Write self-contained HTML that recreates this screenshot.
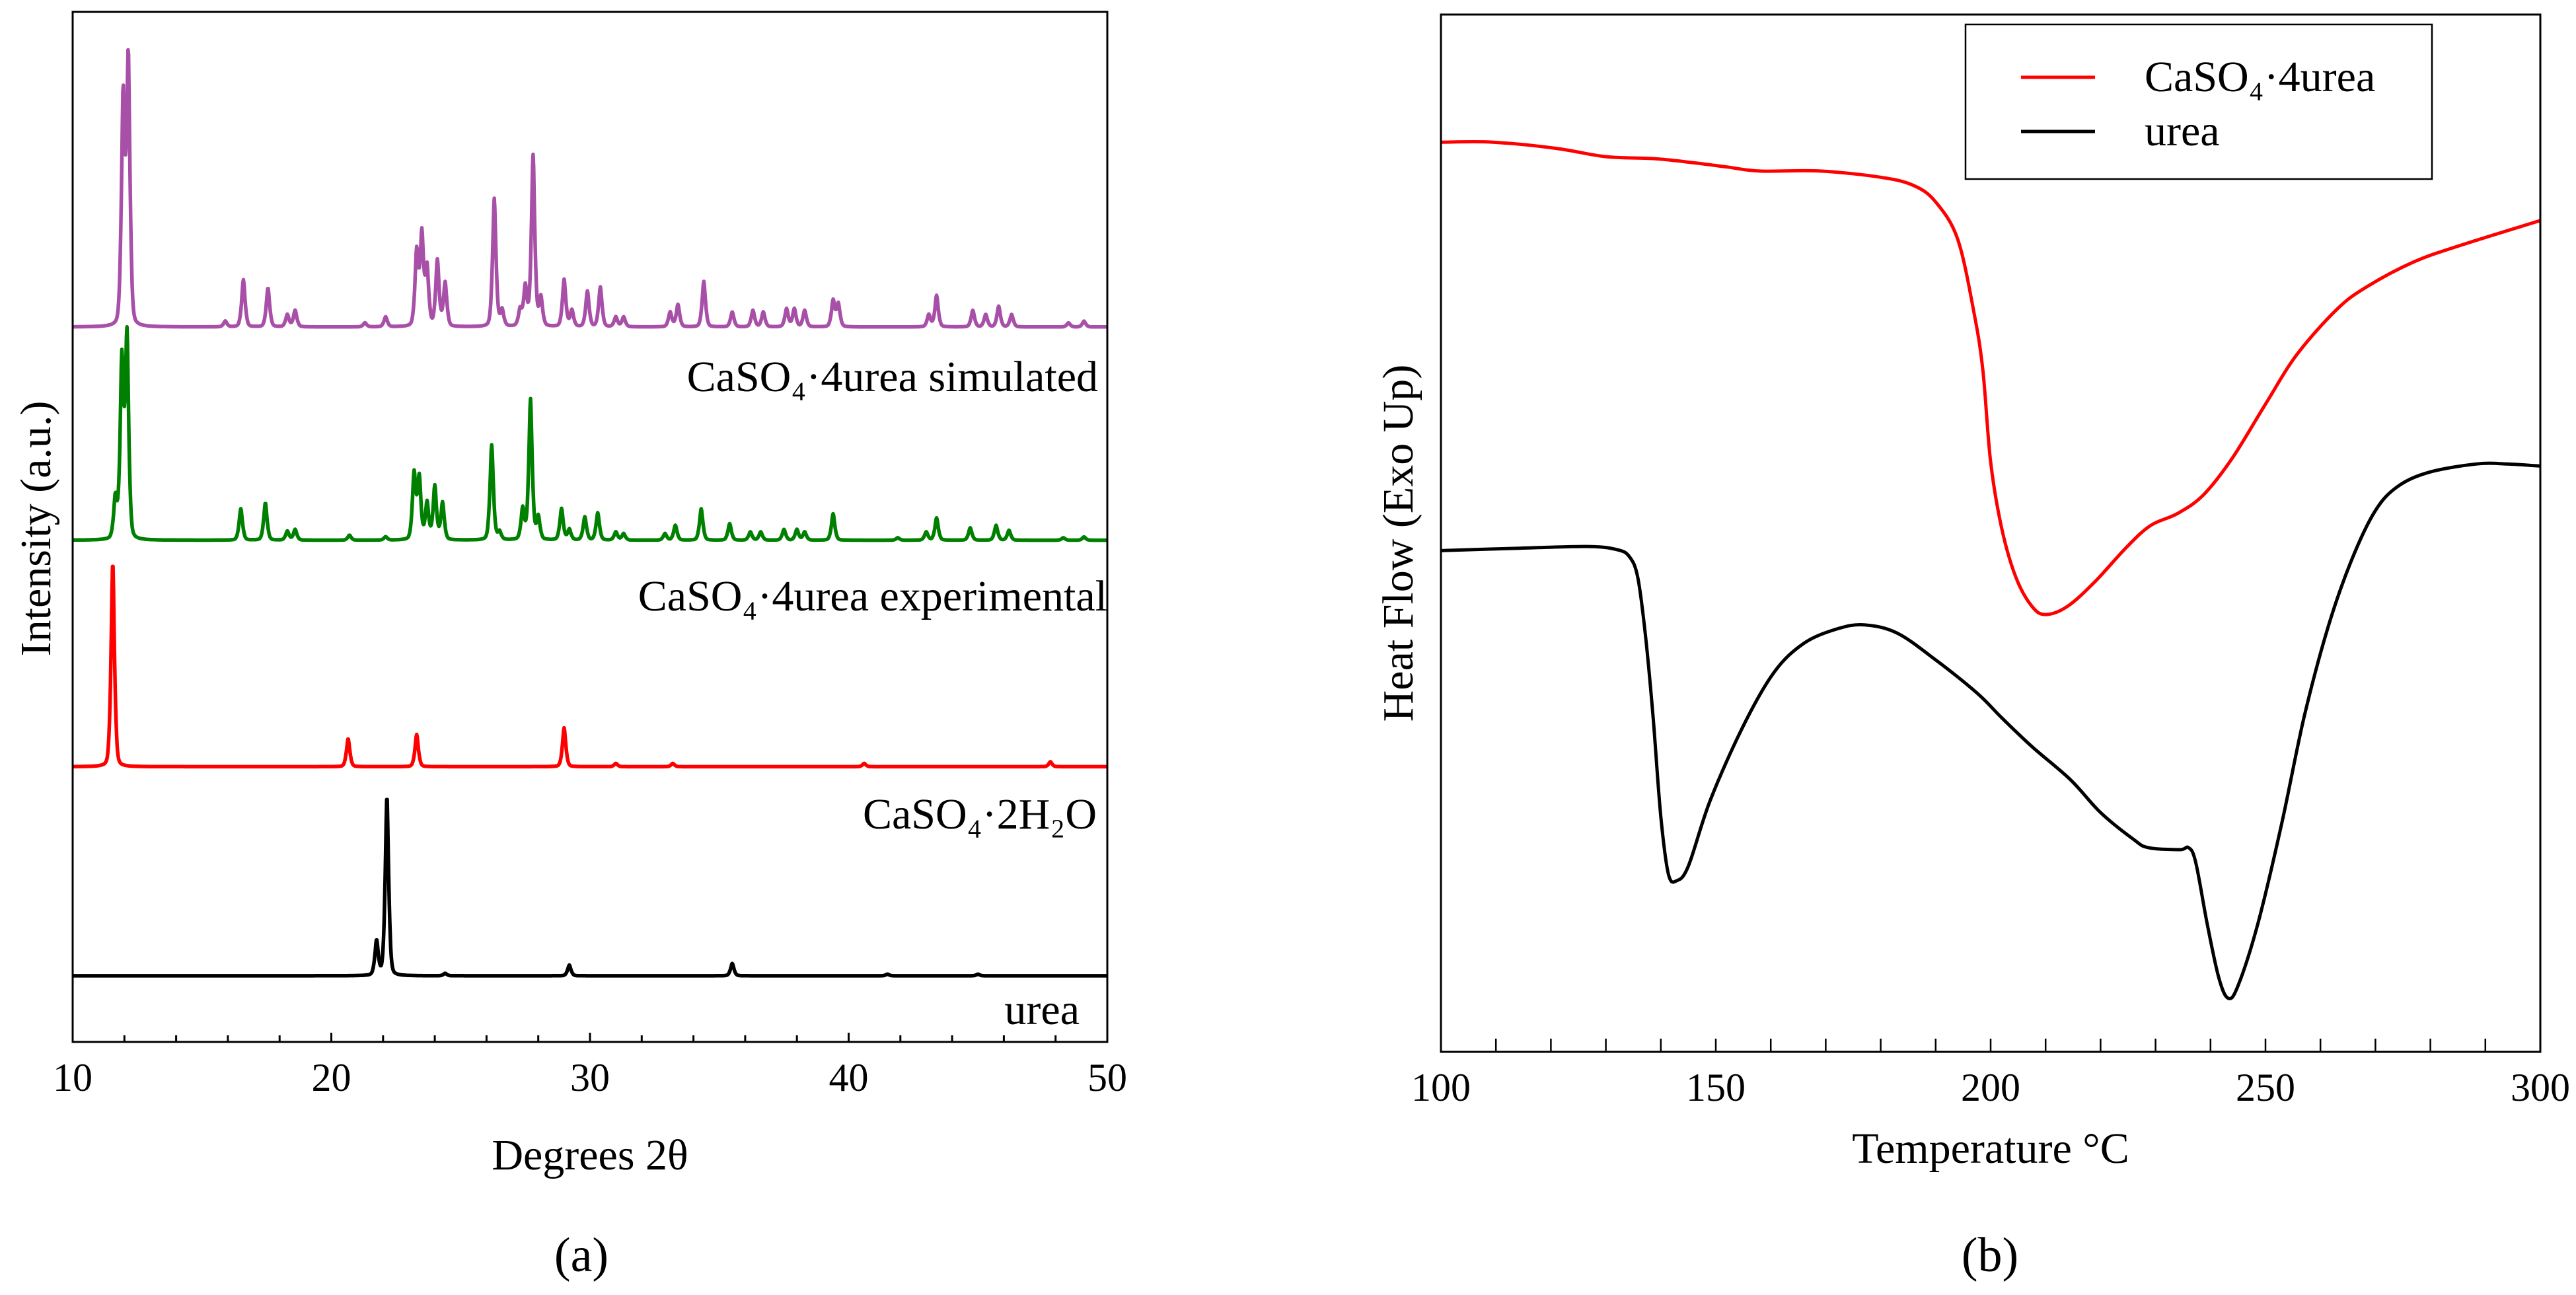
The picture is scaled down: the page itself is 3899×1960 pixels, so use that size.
<!DOCTYPE html>
<html><head><meta charset="utf-8">
<style>
html,body{margin:0;padding:0;background:#fff;}
svg{display:block;font-family:"Liberation Serif",serif;}
</style></head>
<body>
<svg id="fig" width="3899" height="1960" viewBox="0 0 3899 1960" xmlns="http://www.w3.org/2000/svg">
<g id="panelA"></g>
<g id="panelB"></g>
</svg>
<script>
// ---------- XRD data (panel a) ----------
const xrdSeriesNames = ["simulated","experimental","dihydrate","urea"];
const xrdColors = ["#a84fa8","#008000","#ff0000","#000000"];
const xrdBaselines = [865, 607, 333, 80];
const simPos = [11.95,12.15,15.9,16.6,17.55,18.3,18.6,21.3,22.1,23.3,23.5,23.7,24.1,24.4,26.3,26.6,27.3,27.5,27.8,28.1,29.0,29.3,29.9,30.4,31.0,31.3,33.1,33.4,34.4,35.5,36.3,36.7,37.6,37.9,38.3,39.4,39.6,43.1,43.4,44.8,45.3,45.8,46.3,48.5,49.1];
const simHt  = [275,322,7,57,47,15,20,5,12,90,110,70,80,53,155,20,20,48,207,35,57,20,43,48,12,12,18,27,55,18,20,18,22,22,20,32,28,15,38,20,15,25,15,5,7];
const expPos = [11.65,11.9,12.1,16.5,17.45,18.3,18.6,20.7,22.1,23.2,23.4,23.7,24.0,24.3,26.2,26.5,27.4,27.7,28.0,28.9,29.2,29.8,30.3,31.0,31.3,32.9,33.3,34.3,35.4,36.2,36.6,37.5,38.0,38.3,39.4,41.9,43.0,43.4,44.7,45.7,46.2,48.3,49.1];
const expHt  = [50,215,245,38,45,11,13,6,4,80,75,45,65,45,115,10,38,170,28,38,13,28,33,10,8,8,18,38,20,10,10,13,13,10,32,3,10,27,15,18,12,3,4];
const dihPos = [11.55,20.65,23.3,29.0,31.0,33.2,40.6,47.8];
const dihHt  = [247,34,39,47,4,4,4,6];
const ureaPos = [21.75,22.15,24.4,29.2,35.5,41.5,45.0];
const ureaHt  = [42,217,3,13,15,2,2];
const xrdXTicks = [10,20,30,40,50];
const xrdLabels = ["CaSO\u2084\u00b74urea simulated","CaSO\u2084\u00b74urea experimental","CaSO\u2084\u00b72H\u2082O","urea"];

// ---------- DSC data (panel b) ----------
const redT = [100,109.5,121,130,139,146,152,158,169,180,186,190,194,197,198.6,200,202,204.6,207.5,210,214,219,224.5,229,234,238.7,244,250,255.7,263,268.5,277,285.5,300];
const redV = [8.82,8.82,8.76,8.68,8.66,8.62,8.58,8.54,8.54,8.48,8.40,8.24,7.88,7.16,6.60,5.72,5.08,4.60,4.32,4.24,4.32,4.56,4.88,5.10,5.22,5.40,5.76,6.28,6.76,7.20,7.42,7.66,7.82,8.06];
const blkT = [100,112.3,126.5,132,134.3,135.8,137.2,138.6,140,141.4,142.9,145,149,155,160.6,166,172,177,183,190,197.5,202,207.5,214.5,220,226,228.7,234.4,236,237.3,239.4,241.5,243.2,245,248.6,252.9,257,261.4,265.6,269.9,274,279.8,288.4,294,300];
const blkV = [4.86,4.88,4.90,4.87,4.80,4.60,4.04,3.24,2.28,1.72,1.66,1.80,2.44,3.16,3.68,3.96,4.10,4.14,4.06,3.80,3.48,3.24,2.96,2.64,2.32,2.06,1.98,1.96,1.98,1.84,1.24,0.72,0.52,0.64,1.24,2.20,3.24,4.12,4.76,5.24,5.48,5.62,5.70,5.70,5.68];
const dscXTicks = [100,150,200,250,300];
const dscLegend = ["CaSO\u2084\u00b74urea","urea"];

const NS="http://www.w3.org/2000/svg";
function mk(tag, parent, attrs){const e=document.createElementNS(NS,tag);for(const k in attrs)e.setAttribute(k,attrs[k]);parent.appendChild(e);return e;}

// ---- Panel A ----
const A=document.getElementById('panelA');
const aL=110,aR=1676,aT=18,aB=1577;
const ax=d=>aL+(d-10)/40*(aR-aL);
const ay=c=>aB-c*1.251;
function pattern(pos,ht,base,x){let s=0;for(let i=0;i<pos.length;i++){const d=(x-pos[i])/0.08;s+=ht[i]*(0.5*Math.exp(-0.5*d*d)+0.5/(1+d*d*2));}return base+s;}
const xrdPos=[simPos,expPos,dihPos,ureaPos], xrdHt=[simHt,expHt,dihHt,ureaHt];
for(let k=0;k<4;k++){
  let d="";
  for(let x=10;x<=50.0001;x+=0.02){const c=pattern(xrdPos[k],xrdHt[k],xrdBaselines[k],x);d+=(d?"L":"M")+ax(x).toFixed(1)+","+ay(c).toFixed(1);}
  const p=mk('path',A,{d:d,fill:'none',stroke:xrdColors[k],'stroke-width':5.5,'stroke-linejoin':'round'});
  
  
}
const fa=mk('rect',A,{x:aL,y:aT,width:aR-aL,height:aB-aT,fill:'none',stroke:'#000','stroke-width':3});


for(let t=10;t<=50;t+=2){
  const tk=mk('line',A,{x1:ax(t),x2:ax(t),y1:aB,y2:aB-(t%10===0?14:10),stroke:'#000','stroke-width':3});
  
  
}
xrdXTicks.forEach(t=>{
  const e=mk('text',A,{x:ax(t),y:1651,'font-size':60,'text-anchor':'middle'});e.textContent=t;
  
  
});
const labY=[592,924,1254,1550], labX=[1662,1676,1660,1634];
for(let k=0;k<4;k++){
  const e=mk('text',A,{x:labX[k],y:labY[k],'font-size':66,'text-anchor':'end'});e.textContent=xrdLabels[k];
  
  
}
let e=mk('text',A,{x:(aL+aR)/2,y:1770,'font-size':66,'text-anchor':'middle'});e.textContent="Degrees 2\u03b8";


e=mk('text',A,{x:0,y:0,'font-size':66,'text-anchor':'middle',transform:'translate(76,800) rotate(-90)'});e.textContent="Intensity (a.u.)";


e=mk('text',A,{x:880,y:1924,'font-size':74,'text-anchor':'middle'});e.textContent="(a)";



// ---- Panel B ----
const B=document.getElementById('panelB');
const bL=2181,bR=3845,bT=22,bB=1592;
const bx=t=>bL+(t-100)/200*(bR-bL);
const by=v=>bB-v*156.1;
function smooth(T,V){
  const P=T.map((t,i)=>[bx(t),by(V[i])]);
  let d="M"+P[0][0].toFixed(1)+","+P[0][1].toFixed(1);
  for(let i=0;i<P.length-1;i++){
    const p0=P[Math.max(0,i-1)],p1=P[i],p2=P[i+1],p3=P[Math.min(P.length-1,i+2)];
    const c1=[p1[0]+(p2[0]-p0[0])/6,p1[1]+(p2[1]-p0[1])/6];
    const c2=[p2[0]-(p3[0]-p1[0])/6,p2[1]-(p3[1]-p1[1])/6];
    d+="C"+c1[0].toFixed(1)+","+c1[1].toFixed(1)+" "+c2[0].toFixed(1)+","+c2[1].toFixed(1)+" "+p2[0].toFixed(1)+","+p2[1].toFixed(1);
  }
  return d;
}
let p=mk('path',B,{d:smooth(redT,redV),fill:'none',stroke:'#ff0000','stroke-width':5});


p=mk('path',B,{d:smooth(blkT,blkV),fill:'none',stroke:'#000','stroke-width':5});


const fb=mk('rect',B,{x:bL,y:bT,width:bR-bL,height:bB-bT,fill:'none',stroke:'#000','stroke-width':3});


for(let t=100;t<=300;t+=10){
  const tk=mk('line',B,{x1:bx(t),x2:bx(t),y1:bB,y2:bB-20,stroke:'#000','stroke-width':2.5});
  
  
}
dscXTicks.forEach(t=>{
  const e=mk('text',B,{x:bx(t),y:1666,'font-size':60,'text-anchor':'middle'});e.textContent=t;
  
  
});
e=mk('text',B,{x:(bL+bR)/2,y:1760,'font-size':66,'text-anchor':'middle'});e.textContent="Temperature \u00b0C";


e=mk('text',B,{x:0,y:0,'font-size':66,'text-anchor':'middle',transform:'translate(2138,822) rotate(-90)'});e.textContent="Heat Flow (Exo Up)";


e=mk('text',B,{x:3012,y:1924,'font-size':74,'text-anchor':'middle'});e.textContent="(b)";


const lg=mk('rect',B,{x:2975,y:37,width:706,height:234,fill:'#fff',stroke:'#000','stroke-width':2.5});


const lgc=['#ff0000','#000'], lgy=[117,199];
for(let k=0;k<2;k++){
  const l=mk('line',B,{x1:3059,x2:3171,y1:lgy[k],y2:lgy[k],stroke:lgc[k],'stroke-width':5});
  
  
  const t=mk('text',B,{x:3246,y:lgy[k]+21,'font-size':66});t.textContent=dscLegend[k];
  
  
}
</script>
</body></html>
